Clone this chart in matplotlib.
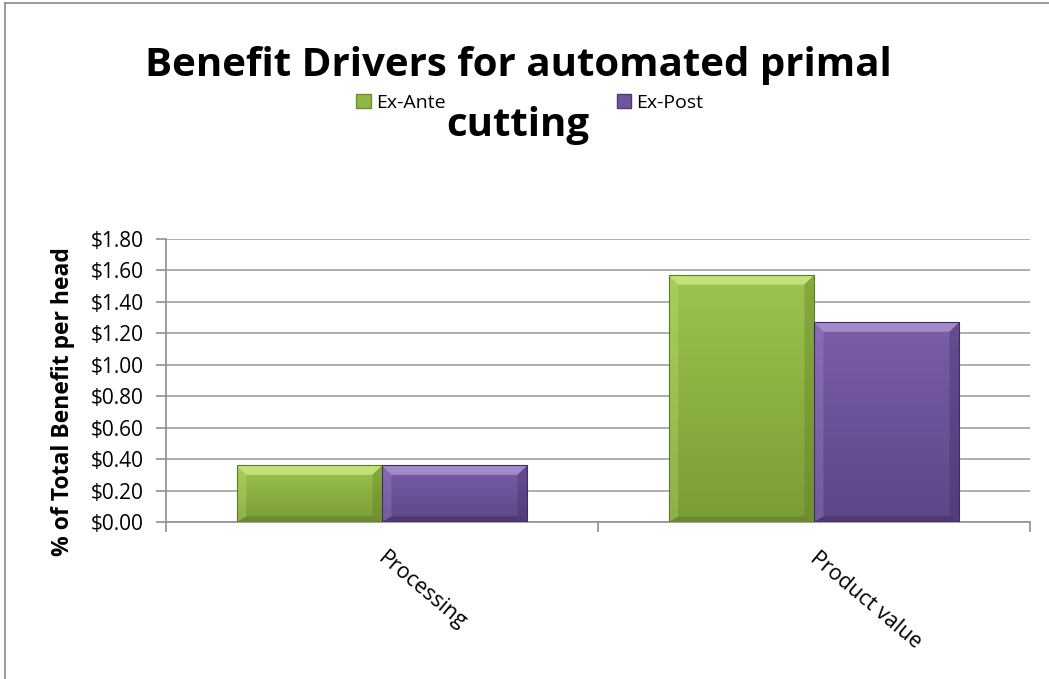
import matplotlib.pyplot as plt
import matplotlib.patches as mpatches
from matplotlib.colors import LinearSegmentedColormap
from matplotlib.ticker import FuncFormatter
import numpy as np

plt.rcParams['font.family'] = ['Open Sans', 'DejaVu Sans']

categories = ['Processing', 'Product value']
ex_ante = [0.36, 1.57]
ex_post = [0.36, 1.27]
series_names = ['Ex-Ante', 'Ex-Post']
yticks = np.arange(0, 1.81, 0.2)

green = '#8fb744'
purple = '#71559b'
# (top, bottom, bevel light, bevel dark)
shades = {
    green: ('#9cc44e', '#7a9c36', '#d2ec8a', '#5d7a25'),
    purple: ('#7a5ea8', '#5e4688', '#b39ad8', '#3f2c62'),
}


def bevel_bar(ax, rect, col):
    x0, w, h = rect.get_x(), rect.get_width(), rect.get_height()
    top, bot, lite, dark = shades[col]
    cmap = LinearSegmentedColormap.from_list('g', [bot, top])
    grad = np.linspace(0, 1, 100).reshape(-1, 1)
    im = ax.imshow(grad, cmap=cmap, origin='lower', aspect='auto',
                   extent=(x0, x0 + w, 0, h), zorder=3)
    im.set_clip_path(rect)
    bx, by = 0.022, 0.06
    ax.add_patch(mpatches.Polygon([(x0, h), (x0 + w, h), (x0 + w - bx, h - by), (x0 + bx, h - by)],
                                  color=lite, alpha=0.75, lw=0, zorder=4))
    ax.add_patch(mpatches.Polygon([(x0, 0), (x0 + w, 0), (x0 + w - bx, by * 0.6), (x0 + bx, by * 0.6)],
                                  color=dark, alpha=0.5, lw=0, zorder=4))
    ax.add_patch(mpatches.Polygon([(x0 + w, 0), (x0 + w, h), (x0 + w - bx, h - by), (x0 + w - bx, by * 0.6)],
                                  color=dark, alpha=0.35, lw=0, zorder=4))
    ax.add_patch(mpatches.Polygon([(x0, 0), (x0, h), (x0 + bx, h - by), (x0 + bx, by * 0.6)],
                                  color=lite, alpha=0.25, lw=0, zorder=4))
    ax.add_patch(mpatches.Rectangle((x0, 0), w, h, fill=False, edgecolor=dark, lw=0.8, zorder=5))


fig = plt.figure(figsize=(10.49, 6.79), dpi=100)
ax = fig.add_axes([0.1582, 0.2312, 0.8236, 0.4168])

x = np.arange(len(categories))
w = 0.336
b1 = ax.bar(x - w / 2, ex_ante, w, color=green, linewidth=0, zorder=3)
b2 = ax.bar(x + w / 2, ex_post, w, color=purple, linewidth=0, zorder=3)
for bars, col in ((b1, green), (b2, purple)):
    for r in bars:
        bevel_bar(ax, r, col)

ax.set_xlim(-0.5, 1.5)
ax.set_ylim(0, 1.8)
ax.set_yticks(yticks)
ax.yaxis.set_major_formatter(FuncFormatter(lambda v, p: '${:.2f}'.format(v)))
ax.grid(axis='y', color='#a0a0a0', linewidth=1.2, zorder=0)
ax.set_axisbelow(True)

ax.set_xticks([-0.5, 0.5, 1.5])
ax.set_xticklabels([])
for i, c in enumerate(categories):
    ax.text(i + 0.012, -0.165, c, rotation=-40, ha='left', va='top', rotation_mode='anchor',
            fontsize=15.5)

for s in ['top', 'right']:
    ax.spines[s].set_visible(False)
for s in ['left', 'bottom']:
    ax.spines[s].set_color('#909090')
    ax.spines[s].set_linewidth(1.2)
ax.tick_params(axis='y', length=7, color='#909090', width=1.2, labelsize=15, pad=9)
ax.tick_params(axis='x', length=7, color='#909090', width=1.2)

ax.set_ylabel('% of Total Benefit per head', fontsize=16.5, fontweight='bold')
ax.yaxis.set_label_coords(-0.105, 0.427)

# title is wrapped over two lines, legend sits between them
fig.text(0.494, 0.903, 'Benefit Drivers for automated primal', ha='center', va='center',
         fontsize=29, fontweight='bold')
fig.text(0.494, 0.815, 'cutting', ha='center', va='center',
         fontsize=29, fontweight='bold')

handles = [mpatches.Patch(color=green, ec='#6e8f30'), mpatches.Patch(color=purple, ec='#4f3a72')]
fig.legend(handles, series_names, loc='center', bbox_to_anchor=(0.505, 0.849), ncol=2,
           frameon=False, fontsize=14, handlelength=0.75, handleheight=0.75,
           handletextpad=0.25, columnspacing=8.8, borderpad=0.1)

# chart frame (top and left edges)
fig.add_artist(plt.Line2D([0.005, 0.005], [0.0, 0.996], transform=fig.transFigure,
                          color='#888888', lw=1.2))
fig.add_artist(plt.Line2D([0.005, 1.0], [0.996, 0.996], transform=fig.transFigure,
                          color='#888888', lw=1.2))

fig.savefig('out.png', dpi=100)
